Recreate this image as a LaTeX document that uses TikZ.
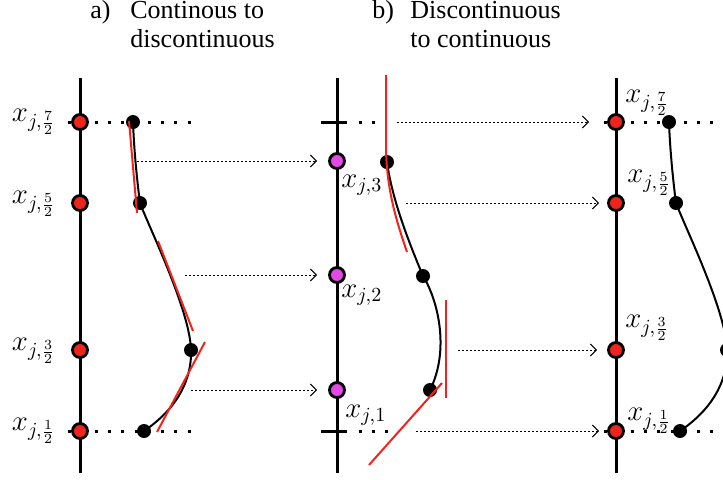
\documentclass[tikz,border=0pt]{standalone}
\usepackage{fontspec}
\setmainfont{Liberation Serif}
\usepackage{amsmath}
\usetikzlibrary{arrows.meta,positioning}
\definecolor{DotRed}{HTML}{F0241E}
\definecolor{DotPink}{HTML}{E449E8}
\definecolor{TanRed}{HTML}{F2231C}
\tikzset{
  axis/.style={draw=black,line width=1.5pt},
  dotrow/.style={draw=black,line width=1.5pt,dash pattern=on 1.5pt off 5.15pt},
  curve/.style={draw=black,line width=1pt},
  tangent/.style={draw=TanRed,line width=1pt},
  reddot/.style={circle,draw=black,fill=DotRed,line width=1.4pt,minimum size=7.5pt,inner sep=0pt},
  pinkdot/.style={reddot,fill=DotPink},
  blackdot/.style={circle,fill=black,minimum size=7pt,inner sep=0pt},
  flow/.style={-{Straight Barb[length=3pt,width=6pt]},draw=black,line width=.5pt,dash pattern=on 1.2pt off .8pt},
  ttl/.style={font=\fontsize{13}{15}\selectfont,inner sep=0pt},
  lbl/.style={font=\fontsize{14}{16}\selectfont,inner sep=0pt}
}
\begin{document}
\begin{tikzpicture}[x=.5pt,y=-.5pt]
  \clip (0,0) rectangle (723,479);
  % titles
  \node[ttl,anchor=base west] (ta) at (90,18) {a)};
  \node[ttl,anchor=base west] (ta1) at (130,18) {Continous to};
  \node[ttl,anchor=base west] (ta2) at (130,47) {discontinuous};
  \node[ttl,anchor=base west] (tb) at (372,18) {b)};
  \node[ttl,anchor=base west] (tb1) at (410,18) {Discontinuous};
  \node[ttl,anchor=base west] (tb2) at (410,47) {to continuous};
  % continuous panels (left and right)
  \foreach \s/\p in {0/a,536/c}{
    \draw[axis] ({80+\s},78) -- ({80+\s},473);
    \draw[dotrow] ({68+\s},122) -- ({200+\s},122);
    \draw[dotrow] ({68+\s},431) -- ({200+\s},431);
    \draw[curve] ({133+\s},122) .. controls ({134+\s},150) and ({137+\s},180) .. ({140+\s},203)
      .. controls ({148+\s},225) and ({190+\s},310) .. ({191+\s},350)
      .. controls ({192+\s},385) and ({172+\s},412) .. ({144+\s},431);
    \foreach \y/\k in {122/72,203/52,350/32,431/12}
      \node[reddot] (\p\k) at ({80+\s},\y) {};
    \foreach \xo/\y/\k in {53/122/72,60/203/52,111/350/32,64/431/12}
      \node[blackdot] (\p b\k) at ({80+\xo+\s},\y) {};
  }
  % discontinuous panel
  \draw[axis] (337,78) -- (337,473);
  \draw[axis] (321,122) -- (347,122);
  \draw[axis] (321,431) -- (347,431);
  \draw[dotrow] (358.5,122) -- (376,122);
  \draw[dotrow] (358.5,431) -- (390,431);
  \draw[curve] (387,162) .. controls (392,200) and (410,245) .. (423,276)
    .. controls (438,300) and (450,350) .. (430,390);
  \node[pinkdot] (m3) at (337,161) {};
  \node[pinkdot] (m2) at (337,275) {};
  \node[pinkdot] (m1) at (337,390) {};
  \node[blackdot] (mb3) at (387,162) {};
  \node[blackdot] (mb2) at (423,276) {};
  \node[blackdot] (mb1) at (430,390) {};
  % labels
  \node[lbl,anchor=base east] (la72) at (56,121) {$x_{j,\frac{7}{2}}$};
  \node[lbl,anchor=base east] (la52) at (56,203) {$x_{j,\frac{5}{2}}$};
  \node[lbl,anchor=base east] (la32) at (56,350) {$x_{j,\frac{3}{2}}$};
  \node[lbl,anchor=base east] (la12) at (56,430) {$x_{j,\frac{1}{2}}$};
  \node[lbl,anchor=base west] (lm3) at (341,187) {$x_{j,3}$};
  \node[lbl,anchor=base west] (lm2) at (341,297) {$x_{j,2}$};
  \node[lbl,anchor=base west] (lm1) at (345,417) {$x_{j,1}$};
  \node[lbl,anchor=base west] (lc72) at (625,102) {$x_{j,\frac{7}{2}}$};
  \node[lbl,anchor=base west] (lc52) at (627,182) {$x_{j,\frac{5}{2}}$};
  \node[lbl,anchor=base west] (lc32) at (625,327) {$x_{j,\frac{3}{2}}$};
  \node[lbl,anchor=base west] (lc12) at (627,420) {$x_{j,\frac{1}{2}}$};
  % red reconstructions
  \draw[tangent] (129,121) -- (137,213);
  \draw[tangent] (158,241) -- (193,331);
  \draw[tangent] (205,342) -- (157,432);
  \draw[tangent] (386,75) -- (386,150) .. controls (387,190) and (396,220) .. (407,252);
  \draw[tangent] (446,300) -- (446,398);
  \draw[tangent] (442,383) -- (369,465);
  % mapping arrows
  \coordinate (fa3) at (137,161);
  \coordinate (fa2) at (185,275);
  \coordinate (fa1) at (191,390);
  \draw[flow,shorten >=5.5pt] (fa3) -- (m3);
  \draw[flow,shorten >=5.5pt] (fa2) -- (m2);
  \draw[flow,shorten >=5.5pt] (fa1) -- (m1);
  \coordinate (fb72) at (397,122);
  \coordinate (fb52) at (406,203);
  \coordinate (fb32) at (458,350);
  \coordinate (fb12) at (416,431);
  \draw[flow,shorten >=9pt] (fb72) -- (c72);
  \draw[flow,shorten >=4pt] (fb52) -- (c52);
  \draw[flow,shorten >=5pt] (fb32) -- (c32);
  \draw[flow,shorten >=4pt] (fb12) -- (c12);
\end{tikzpicture}
\end{document}
